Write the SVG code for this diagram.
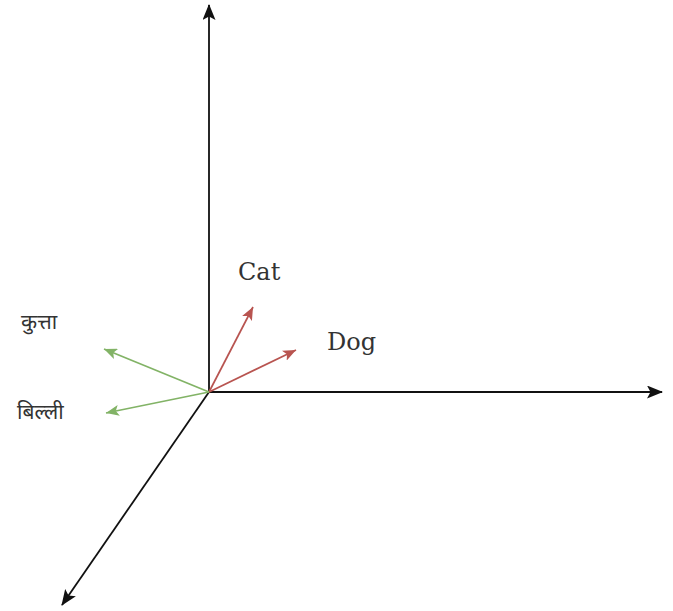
<svg xmlns="http://www.w3.org/2000/svg" width="673" height="611" viewBox="0 0 673 611">
<style>
.axis{stroke:#111;stroke-width:1.8;fill:none}
.red{stroke:#b85450;stroke-width:1.7;fill:none}
.green{stroke:#82b366;stroke-width:1.7;fill:none}
.lbl{font-family:"DejaVu Serif","Liberation Serif",serif;font-size:24px;fill:#333}
.hin{font-family:"Noto Sans Devanagari","Lohit Devanagari","Noto Sans",sans-serif;font-size:21px;fill:#333}
</style>
<defs>
<marker id="ab" markerUnits="userSpaceOnUse" markerWidth="17" markerHeight="13" refX="15" refY="6.5" orient="auto">
<path d="M0,0 L16,6.5 L0,13 L3.5,6.5 z" fill="#111"/>
</marker>
<marker id="ar" markerUnits="userSpaceOnUse" markerWidth="14" markerHeight="11" refX="13" refY="5.5" orient="auto">
<path d="M0,0 L13,5.5 L0,11 L3,5.5 z" fill="#b85450"/>
</marker>
<marker id="ag" markerUnits="userSpaceOnUse" markerWidth="14" markerHeight="11" refX="13" refY="5.5" orient="auto">
<path d="M0,0 L13,5.5 L0,11 L3,5.5 z" fill="#82b366"/>
</marker>
</defs>
<g id="connectors">
<line class="axis" x1="209" y1="392" x2="209" y2="5" marker-end="url(#ab)"/>
<line class="axis" x1="209" y1="392" x2="662" y2="392" marker-end="url(#ab)"/>
<line class="axis" x1="209" y1="392" x2="62" y2="605" marker-end="url(#ab)"/>
<line class="red" x1="209" y1="392" x2="253" y2="307" marker-end="url(#ar)"/>
<line class="red" x1="209" y1="392" x2="296" y2="350" marker-end="url(#ar)"/>
<line class="green" x1="209" y1="392" x2="104" y2="349" marker-end="url(#ag)"/>
<line class="green" x1="209" y1="392" x2="106" y2="413" marker-end="url(#ag)"/>
</g>
<g id="cat"><text class="lbl" x="238" y="280">Cat</text></g>
<g id="dog"><text class="lbl" x="327" y="350">Dog</text></g>
<g id="kutta"><text class="hin" x="21" y="329" font-size="22">कुत्ता</text></g>
<g id="billi"><text class="hin" x="17" y="419">बिल्ली</text></g>
</svg>
